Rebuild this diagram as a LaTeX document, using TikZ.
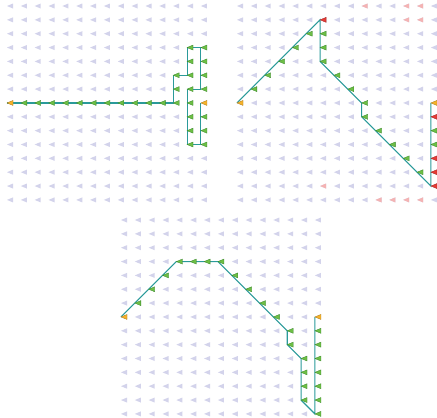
\documentclass[tikz,border=0pt]{standalone}
\definecolor{lav}{HTML}{D3D3EB}
\definecolor{grn}{HTML}{6DBE45}
\definecolor{grnd}{HTML}{3C8C2A}
\definecolor{org}{HTML}{F6B22A}
\definecolor{redc}{HTML}{E63B35}
\definecolor{pink}{HTML}{F4B3B3}
\definecolor{teal2}{HTML}{2A9A9A}
\tikzset{
  bgtri/.style={fill=lav},
  gtri/.style={fill=grn,draw=grnd,line width=0.3pt},
  otri/.style={fill=org,draw=org!70!black,line width=0.3pt},
  rtri/.style={fill=redc,draw=redc!70!black,line width=0.3pt},
  ptri/.style={fill=pink},
  route/.style={draw=teal2,line width=1.1pt,line join=miter},
  panel/.style={x=13.85pt,y=-13.85pt}
}
\newcommand\tri[3]{\path[#1] (#2,#3) -- ++(6pt,2.5pt) -- ++(0pt,-5pt) -- cycle;}
\newcommand\bggrid{\foreach \c in {0,...,14}{\foreach \r in {0,...,14}{\tri{bgtri}{\c}{\r}}}}
\begin{document}
\begin{tikzpicture}[x=1pt,y=-1pt]
\useasboundingbox[fill=white] (0,0) rectangle (437,418);

% ---------- top-left panel ----------
\begin{scope}[shift={(7pt,-6pt)},panel]
  \bggrid
  \draw[route] (0,7) -- (12,7) -- (12,5) -- (13,5) -- (13,3) -- (14,3) -- (14,6) -- (13,6) -- (13,10) -- (14,10) -- (14,7);
  \foreach \c/\r in {1/7,2/7,3/7,4/7,5/7,6/7,7/7,8/7,9/7,10/7,11/7,12/7,12/6,12/5,13/5,13/4,13/3,14/3,14/4,14/5,14/6,13/6,13/7,13/8,13/9,13/10,14/10,14/9,14/8}{\tri{gtri}{\c}{\r}}
  \tri{otri}{0}{7}
  \tri{otri}{14}{7}
\end{scope}

% ---------- top-right panel ----------
\begin{scope}[shift={(237pt,-6pt)},panel]
  \bggrid
  \foreach \c/\r in {9/0,12/0,13/0,12/1,13/1,6/13,10/14,11/14,12/14,13/14}{\tri{ptri}{\c}{\r}}
  \draw[route] (0,7) -- (6,1) -- (6,4) -- (9,7) -- (9,8) -- (14,13) -- (14,7);
  \foreach \c/\r in {1/6,2/5,3/4,4/3,5/2,6/2,6/3,6/4,7/5,8/6,9/7,9/8,10/9,11/10,12/11,13/12,14/9,14/10}{\tri{gtri}{\c}{\r}}
  \foreach \c/\r in {6/1,14/13,14/12,14/11,14/8}{\tri{rtri}{\c}{\r}}
  \tri{otri}{0}{7}
  \tri{otri}{14}{7}
\end{scope}

% ---------- bottom panel ----------
\begin{scope}[shift={(121pt,-220pt)},panel]
  \bggrid
  \draw[route] (0,7) -- (4,3) -- (7,3) -- (12,8) -- (12,9) -- (13,10) -- (13,13) -- (14,14) -- (14,7);
  \foreach \c/\r in {1/6,2/5,3/4,4/3,5/3,6/3,7/3,8/4,9/5,10/6,11/7,12/8,12/9,13/10,13/11,13/12,13/13,14/14,14/13,14/12,14/11,14/10,14/9,14/8}{\tri{gtri}{\c}{\r}}
  \tri{otri}{0}{7}
  \tri{otri}{14}{7}
\end{scope}
\end{tikzpicture}
\end{document}
